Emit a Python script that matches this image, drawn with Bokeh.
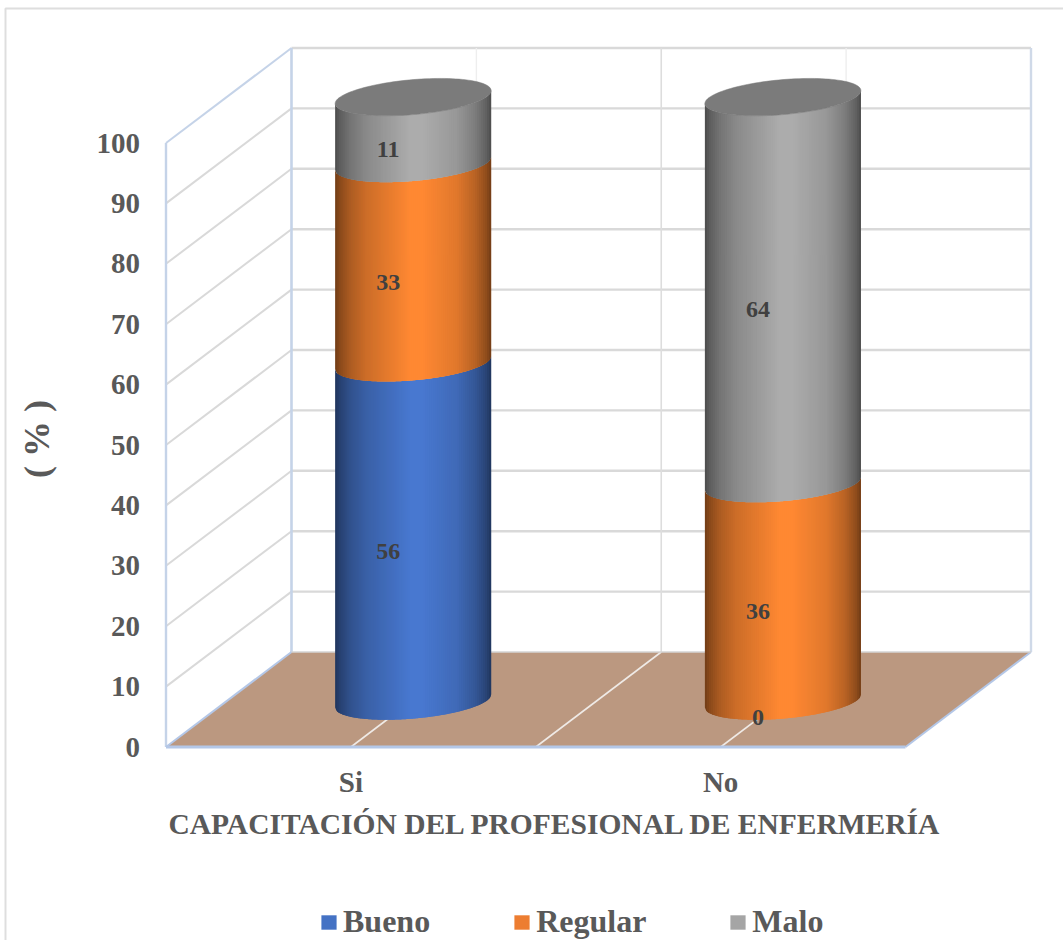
import numpy as np
from bokeh.core.properties import value
from bokeh.embed import file_html
from bokeh.models import FixedTicker, Legend, LegendItem
from bokeh.plotting import figure
from bokeh.resources import INLINE

# Survey results in percent
categories = ["Si", "No"]
series_names = ["Bueno", "Regular", "Malo"]
bueno = [56, 0]
regular = [33, 36]
malo = [11, 64]
series_values = [bueno, regular, malo]
value_ticks = list(range(0, 101, 10))

x_title = "CAPACITACIÓN DEL PROFESIONAL DE ENFERMERÍA"
y_title = "( % )"

# Full-height shade colours and flat legend colours
shade_colors = [(72, 120, 208), (255, 136, 50), (172, 172, 172)]
legend_colors = ["#4472C4", "#ED7D31", "#A5A5A5"]

FONT = "Liberation Serif"
TEXT_GREY = "#595959"
LABEL_GREY = "#404040"
WALL_GRID = "#D9D9D9"
WALL_EDGE = "#C5D3E8"
FLOOR_EDGE = "#B4C7E7"
FLOOR_FILL = "#BB9880"

# Oblique projection of the chart box; one value unit is UNIT canvas pixels
WIDTH, HEIGHT = 1063, 940
UNIT = 6.04
ZERO_ROW = 746.5            # canvas row of value 0 on the front plane
BOX_LEFT = 165.5
BOX_WIDTH = 739.5
DEPTH_X = 125.5
DEPTH_Y = 95 / UNIT


def project(across, val, depth=0.0):
    """Position `across` along the front edge, at value `val`, `depth` into the box."""
    return BOX_LEFT + across + DEPTH_X * depth, val + DEPTH_Y * depth


def row(px):
    """Value coordinate of a canvas pixel row."""
    return (ZERO_ROW - px) / UNIT


p = figure(
    width=WIDTH, height=HEIGHT,
    x_range=(0, WIDTH), y_range=(row(HEIGHT), row(0)),
    output_backend="svg", toolbar_location=None, tools="",
    min_border=0, min_border_left=0, min_border_right=0,
    min_border_top=0, min_border_bottom=0,
)
p.outline_line_color = None
p.grid.visible = False
p.background_fill_color = "white"
p.border_fill_color = "white"

# Outer chart border
p.line([5, 5, WIDTH], [row(HEIGHT), row(8), row(8)], line_color="#DEDEDE", line_width=2)

# Floor
fx, fy = zip(*[project(0, 0, 0), project(BOX_WIDTH, 0, 0),
               project(BOX_WIDTH, 0, 1), project(0, 0, 1)])
p.patch(list(fx), list(fy), fill_color=FLOOR_FILL, line_color=None)

# Back wall and side wall gridlines
for v in value_ticks[1:]:
    pts = [project(0, v, 0), project(0, v, 1), project(BOX_WIDTH, v, 1)]
    xs, ys = zip(*pts)
    p.line(list(xs[1:]), list(ys[1:]), line_color=WALL_GRID, line_width=2.4)
    p.line(list(xs[:2]), list(ys[:2]),
           line_color=WALL_EDGE if v == 100 else WALL_GRID, line_width=2)

# Verticals on the back wall with their continuation across the floor
step = BOX_WIDTH / (2 * len(categories))
for k in range(1, 2 * len(categories)):
    x0, y0 = project(step * k, 0, 0)
    x1, y1 = project(step * k, 0, 1)
    x2, y2 = project(step * k, 100, 1)
    strong = k % 2 == 0
    p.line([x1, x2], [y1, y2], line_color="#DDDDDD" if strong else "#EEEEEE",
           line_width=1.6 if strong else 1.4)
    p.line([x0, x1], [y0, y1], line_color="#EFEAE6", line_width=1.6)

# Edges of the box
for a, b, color, w in [
    ((0, 0, 0), (0, 100, 0), WALL_EDGE, 2.4),
    ((0, 0, 1), (0, 100, 1), WALL_EDGE, 2.6),
    ((BOX_WIDTH, 0, 1), (BOX_WIDTH, 100, 1), "#CFD9E8", 2.4),
    ((0, 0, 0), (0, 0, 1), FLOOR_EDGE, 2),
    ((BOX_WIDTH, 0, 0), (BOX_WIDTH, 0, 1), FLOOR_EDGE, 2),
    ((0, 0, 0), (BOX_WIDTH, 0, 0), FLOOR_EDGE, 3),
    ((0, 0, 1), (BOX_WIDTH, 0, 1), "#D5D5D5", 1.6),
]:
    (xa, ya), (xb, yb) = project(*a), project(*b)
    p.line([xa, xb], [ya, yb], line_color=color, line_width=w)

# Cylinders: vertical strips shaded across the width, stacked upward
RADIUS = 78.0
TILT = 6.5 / UNIT           # rise of the ellipse's right end, in value units
MINOR = 17.5 / UNIT         # half height of the ellipse, in value units
COLUMN_LIFT = 7.6           # floor level under the column axis, in value units
COLUMN_SHIFT = -0.5         # columns stand slightly left of the category centre
LABEL_DROP = 2.0 / UNIT     # labels sit a little below the front of the mid-level arc
N_STRIPS = 78
shade_at = [0.0, 0.03, 0.10, 0.20, 0.48, 0.56, 0.78, 0.90, 0.97, 1.0]
shade_val = [0.44, 0.54, 0.68, 0.80, 1.0, 1.0, 0.88, 0.72, 0.56, 0.44]


def front_arc(cx, level, x):
    u = np.clip((x - cx) / RADIUS, -1, 1)
    return level + TILT * u - MINOR * np.sqrt(1 - u ** 2)


def column_level(v):
    return COLUMN_LIFT + v


def to_hex(rgb):
    return "#%02X%02X%02X" % tuple(int(round(c)) for c in rgb)


label_x, label_y, label_text = [], [], []
for c, _ in enumerate(categories):
    front_center = step * (2 * c + 1)
    cx = project(front_center, 0, 0.5)[0] + COLUMN_SHIFT
    bottom = 0
    for s, vals in enumerate(series_values):
        h = vals[c]
        top = bottom + h
        lab_row = front_arc(cx, column_level(bottom + h / 2), cx) - LABEL_DROP
        if h == 0:
            lab_row += 3.2 / UNIT   # a zero label sits just above the column foot
        label_x.append(cx - 25)
        label_y.append(lab_row)
        label_text.append(str(h))
        if h > 0:
            edges = np.linspace(cx - RADIUS, cx + RADIUS, N_STRIPS + 1)
            xs, ys, colors = [], [], []
            for i in range(N_STRIPS):
                # each strip runs under its right neighbour so no seam shows
                a, b = edges[i], edges[min(i + 2, N_STRIPS)]
                grid = np.linspace(a, b, 4)
                low = front_arc(cx, column_level(bottom), grid)
                high = front_arc(cx, column_level(top), grid)
                xs.append(list(grid) + list(grid[::-1]))
                ys.append(list(low) + list(high[::-1]))
                f = np.interp((i + 0.5) / N_STRIPS, shade_at, shade_val)
                colors.append(to_hex([ch * f for ch in shade_colors[s]]))
            p.patches(xs, ys, fill_color=colors, line_color=None)
        bottom = top
    # Flat lid closing the column
    t = np.linspace(0, 2 * np.pi, 121)
    lid_x = cx + RADIUS * np.cos(t)
    lid_y = column_level(bottom) + TILT * np.cos(t) + MINOR * np.sin(t)
    p.patch(list(lid_x), list(lid_y), fill_color="#7B7B7B", line_color="#7B7B7B", line_width=0.5)

# Data labels
p.text(label_x, label_y, text=label_text, text_font=value(FONT), text_font_style="bold",
       text_font_size="24px", text_color=LABEL_GREY, text_align="center", text_baseline="middle")

# Value axis running up the front-left edge
yaxis = p.yaxis[0]
yaxis.fixed_location = BOX_LEFT
yaxis.ticker = FixedTicker(ticks=value_ticks)
yaxis.bounds = (0, 102)
yaxis.axis_line_color = None
yaxis.major_tick_line_color = None
yaxis.minor_tick_line_color = None
yaxis.major_label_standoff = 20
yaxis.major_label_text_font = FONT
yaxis.major_label_text_font_style = "bold"
yaxis.major_label_text_font_size = "29px"
yaxis.major_label_text_color = TEXT_GREY
yaxis.axis_label = y_title
yaxis.axis_label_text_font = FONT
yaxis.axis_label_text_font_style = "bold"
yaxis.axis_label_text_font_size = "36px"
yaxis.axis_label_text_color = TEXT_GREY
yaxis.axis_label_standoff = 37

# Category axis along the front edge of the floor
xaxis = p.xaxis[0]
xaxis.fixed_location = 0
tick_pos = [project(step * (2 * c + 1), 0)[0] for c in range(len(categories))]
xaxis.ticker = FixedTicker(ticks=tick_pos)
xaxis.major_label_overrides = dict(zip(tick_pos, categories))
xaxis.bounds = (BOX_LEFT, 944)
xaxis.axis_line_color = None
xaxis.major_tick_line_color = None
xaxis.minor_tick_line_color = None
xaxis.major_label_standoff = 13
xaxis.major_label_text_font = FONT
xaxis.major_label_text_font_style = "bold"
xaxis.major_label_text_font_size = "29px"
xaxis.major_label_text_color = TEXT_GREY
xaxis.axis_label = x_title
xaxis.axis_label_text_font = FONT
xaxis.axis_label_text_font_style = "bold"
xaxis.axis_label_text_font_size = "29.5px"
xaxis.axis_label_text_color = TEXT_GREY
xaxis.axis_label_standoff = 6

# Legend with flat colour keys
items = []
for name, color in zip(series_names, legend_colors):
    key = p.quad(left=[np.nan], right=[np.nan], top=[np.nan], bottom=[np.nan],
                 fill_color=color, line_color=None)
    items.append(LegendItem(label=name, renderers=[key]))
legend = Legend(
    items=items, orientation="horizontal", location=(319, 0),
    background_fill_alpha=0, border_line_color=None,
    padding=0, margin=0, spacing=82, glyph_width=19, glyph_height=18,
    label_standoff=5, label_text_font=FONT, label_text_font_style="bold",
    label_text_font_size="32px", label_text_color=TEXT_GREY,
)
p.add_layout(legend)

open("out.html", "w").write(file_html(p, INLINE))
